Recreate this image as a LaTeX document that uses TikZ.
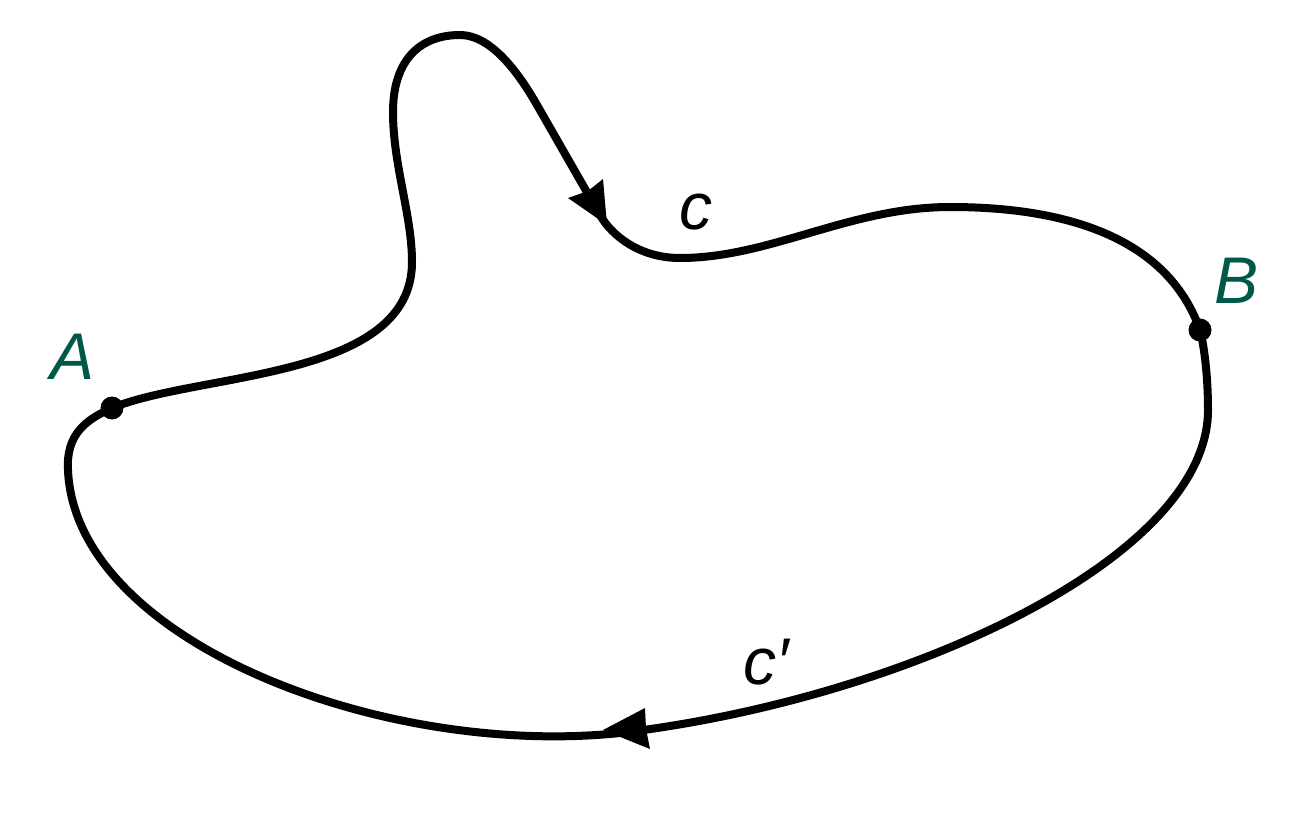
\documentclass[tikz,border=0pt]{standalone}
\usepackage{fontspec}
\setmainfont{Liberation Sans}
\definecolor{labelgreen}{RGB}{0,88,72}
\begin{document}
\begin{tikzpicture}[x=1pt,y=-1pt,
  curve/.style={line width=8pt, line join=round, draw=black},
  dot/.style={circle, fill=black, inner sep=0pt, minimum size=23pt},
  ptlabel/.style={text=labelgreen, font=\fontsize{66}{72}\selectfont\itshape, inner sep=0pt},
  curvelabel/.style={text=black, font=\fontsize{66}{72}\selectfont\itshape, inner sep=0pt},
  arrowhead/.style={fill=black, draw=none}]
\useasboundingbox (0,0) rectangle (1291,814);
% key points
\coordinate (A) at (112,408);
\coordinate (B) at (1200,330);
\coordinate (lobeR) at (412,262);
\coordinate (lobeL) at (393,112);
\coordinate (lobeTop) at (460,35);
\coordinate (lobeS) at (537,105);
\coordinate (arrTop) at (600,215);
\coordinate (dip) at (680,258);
\coordinate (crest) at (950,207);
\coordinate (rightSide) at (1208,410);
\coordinate (arrBot) at (620,733);
\coordinate (leftSide) at (68,470);
% curve c from A to B
\draw[curve] (A) .. controls (200,372) and (412,380) .. (lobeR)
  .. controls (412,215) and (393,165) .. (lobeL)
  .. controls (393,60) and (420,35) .. (lobeTop)
  .. controls (490,35) and (517,70) .. (lobeS)
  -- (arrTop)
  .. controls (612,236) and (640,258) .. (dip)
  .. controls (770,258) and (850,207) .. (crest)
  .. controls (1080,207) and (1170,245) .. (B);
% curve c' from B to A
\draw[curve] (B) .. controls (1205,350) and (1208,380) .. (rightSide)
  .. controls (1208,560) and (900,700) .. (arrBot)
  .. controls (380,758) and (75,640) .. (leftSide)
  .. controls (66,435) and (85,420) .. (A);
% arrowheads
\fill[arrowhead] (607,225) -- (568,198) -- (588,191) -- (603,179) -- cycle;
\fill[arrowhead] (603,730) -- (645,708) -- (646,729) -- (650,749) -- cycle;
% points
\node[dot] (dotA) at (A) {};
\node[dot] (dotB) at (B) {};
% labels
\node[ptlabel] (labA) at (73,357) {A};
\node[ptlabel] (labB) at (1236,281) {B};
\node[curvelabel] (labc) at (696,212) {c};
\node[curvelabel] (labcp) at (766,662) {c′};
\end{tikzpicture}
\end{document}
